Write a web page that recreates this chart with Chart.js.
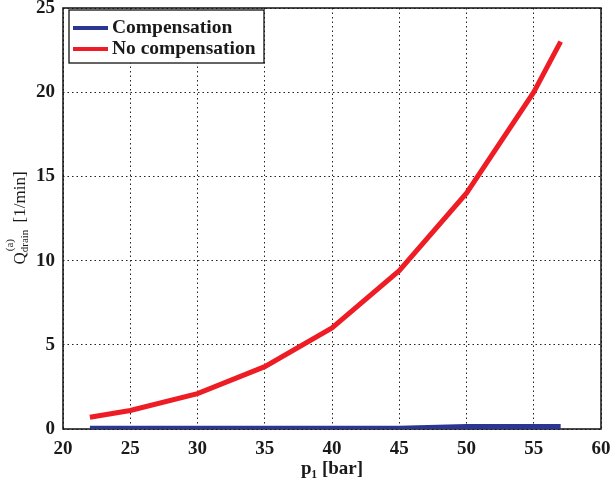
<!DOCTYPE html>
<html>
<head>
<meta charset="utf-8">
<script src="https://cdn.jsdelivr.net/npm/chart.js@4"></script>
<style>
  html, body { margin: 0; padding: 0; background: #fff; }
  #wrap { width: 614px; height: 480px; }
</style>
</head>
<body>
<div id="wrap"><canvas id="myChart" width="614" height="480"></canvas></div>
<script>
const pressure = [22, 25, 30, 35, 40, 45, 50, 55, 57];
const compensation = [0.05, 0.05, 0.05, 0.05, 0.05, 0.05, 0.15, 0.15, 0.15];
const noCompensation = [0.7, 1.1, 2.1, 3.7, 6.0, 9.4, 14.0, 20.0, 23.0];
const seriesNames = ['Compensation', 'No compensation'];
const seriesColors = ['#2b3592', '#ee1d25'];

const serif = '"Liberation Serif", "DejaVu Serif", serif';

function points(ys) {
  return pressure.map((x, i) => ({ x: x, y: ys[i] }));
}

// frame round the plot area
const frame = {
  id: 'frame',
  beforeDatasetsDraw(chart) {
    const a = chart.chartArea;
    const c = chart.ctx;
    c.save();
    c.strokeStyle = '#111';
    c.lineWidth = 1.5;
    c.strokeRect(a.left, a.top, a.right - a.left, a.bottom - a.top);
    c.restore();
  }
};

// legend box in the upper left corner
const boxLegend = {
  id: 'boxLegend',
  afterDatasetsDraw(chart) {
    const c = chart.ctx;
    const left = 69, top = 10, w = 195, h = 53;
    c.save();
    c.fillStyle = '#fff';
    c.fillRect(left, top, w, h);
    c.strokeStyle = '#111';
    c.lineWidth = 1.3;
    c.strokeRect(left, top, w, h);
    c.font = 'bold 19.5px ' + serif;
    c.textBaseline = 'middle';
    c.fillStyle = '#1a1a1a';
    seriesNames.forEach((name, i) => {
      const y = top + 18 + i * 21;
      c.strokeStyle = seriesColors[i];
      c.lineWidth = 4;
      c.beginPath();
      c.moveTo(left + 4, y);
      c.lineTo(left + 39, y);
      c.stroke();
      c.fillText(name, left + 43, y);
    });
    c.restore();
  }
};

// y axis title with sub- and superscript
const yTitle = {
  id: 'yTitle',
  afterDraw(chart) {
    const c = chart.ctx;
    c.save();
    c.translate(19, 218);
    c.rotate(-Math.PI / 2);
    c.fillStyle = '#1a1a1a';
    c.textBaseline = 'alphabetic';
    const big = '17px ' + serif;
    const small = '11px ' + serif;
    c.font = big;
    const wQ = c.measureText('Q').width;
    const wRest = c.measureText(' [1/min]').width + 3;
    c.font = small;
    const wSub = c.measureText('drain').width;
    const total = wQ + wSub + wRest;
    let x = -total / 2;
    c.font = big;
    c.fillText('Q', x, 6);
    x += wQ;
    c.font = small;
    c.fillText('(a)', x + 1, -6);
    c.fillText('drain', x, 9);
    x += wSub + 3;
    c.font = big;
    c.fillText(' [1/min]', x, 6);
    c.restore();
  }
};

const ctx = document.getElementById('myChart');

new Chart(ctx, {
  type: 'line',
  data: {
    datasets: [{
      label: seriesNames[0],
      data: points(compensation),
      borderColor: seriesColors[0],
      borderWidth: 5,
      pointRadius: 0,
      tension: 0
    }, {
      label: seriesNames[1],
      data: points(noCompensation),
      borderColor: seriesColors[1],
      borderWidth: 5,
      pointRadius: 0,
      tension: 0
    }]
  },
  options: {
    responsive: false,
    animation: false,
    layout: { padding: { top: 8, right: 13, left: 0, bottom: 0 } },
    plugins: {
      legend: { display: false },
      tooltip: { enabled: false }
    },
    scales: {
      x: {
        type: 'linear',
        min: 20,
        max: 60,
        ticks: {
          stepSize: 5,
          color: '#1a1a1a',
          font: { family: serif, size: 19, weight: 'bold' },
          padding: 9,
          maxRotation: 0
        },
        grid: {
          color: '#222',
          lineWidth: 1,
          drawTicks: false
        },
        border: { display: false, dash: [1.5, 3] },
        title: {
          display: true,
          text: 'p\u2081 [bar]',
          color: '#1a1a1a',
          font: { family: serif, size: 19, weight: 'bold' },
          padding: { top: 0, bottom: 0 }
        },
        afterFit(scale) {
          scale.height = 51;
          scale.paddingLeft = 0;
          scale.paddingRight = 0;
        }
      },
      y: {
        min: 0,
        max: 25,
        ticks: {
          stepSize: 5,
          color: '#1a1a1a',
          font: { family: serif, size: 19, weight: 'bold' },
          padding: 8
        },
        grid: {
          color: '#222',
          lineWidth: 1,
          drawTicks: false
        },
        border: { display: false, dash: [1.5, 3] },
        afterFit(scale) {
          scale.width = 63;
          scale.paddingTop = 0;
          scale.paddingBottom = 0;
        }
      }
    }
  },
  plugins: [frame, boxLegend, yTitle]
});
</script>
</body>
</html>
